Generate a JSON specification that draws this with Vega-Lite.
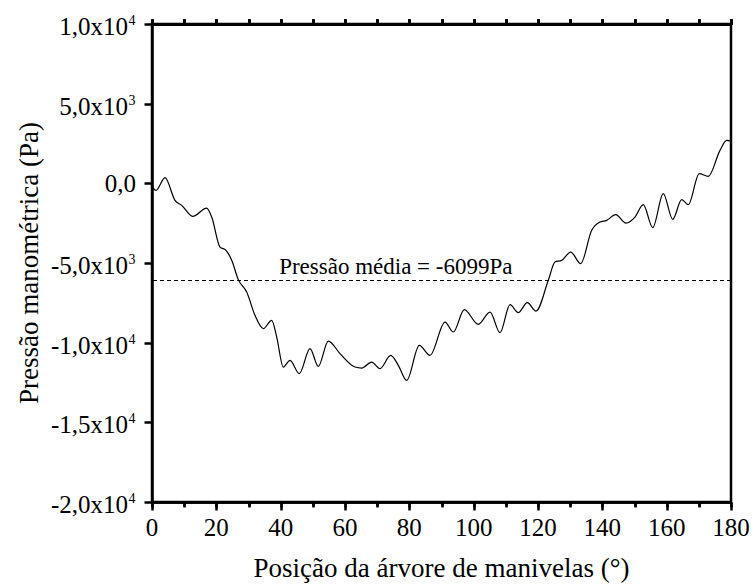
{
  "$schema": "https://vega.github.io/schema/vega-lite/v6.json",
  "width": 579,
  "height": 478,
  "autosize": {"type": "none"},
  "padding": {"left": 152, "top": 24, "right": 21, "bottom": 83},
  "background": "white",
  "config": {
    "view": {"stroke": "black", "strokeWidth": 2.5},
    "font": "Liberation Serif",
    "axis": {
      "domainColor": "black",
      "tickColor": "black",
      "domainWidth": 2.5,
      "tickWidth": 2.5,
      "grid": false,
      "labels": false,
      "title": null
    }
  },
  "datasets": {
    "curve": [
      {"angle": 0, "pressure": -188},
      {"angle": 1.24, "pressure": -439},
      {"angle": 4.04, "pressure": 358},
      {"angle": 7.15, "pressure": -1067},
      {"angle": 9.23, "pressure": -1381},
      {"angle": 12.65, "pressure": -2071},
      {"angle": 17.0, "pressure": -1550},
      {"angle": 18.56, "pressure": -2115},
      {"angle": 21.14, "pressure": -3998},
      {"angle": 23.0, "pressure": -4205},
      {"angle": 24.78, "pressure": -4833},
      {"angle": 26.83, "pressure": -6044},
      {"angle": 29.44, "pressure": -6822},
      {"angle": 32.02, "pressure": -8284},
      {"angle": 34.6, "pressure": -9119},
      {"angle": 37.21, "pressure": -8598},
      {"angle": 38.77, "pressure": -9646},
      {"angle": 40.82, "pressure": -11529},
      {"angle": 42.9, "pressure": -11109},
      {"angle": 45.79, "pressure": -11943},
      {"angle": 49.12, "pressure": -10374},
      {"angle": 51.7, "pressure": -11485},
      {"angle": 54.81, "pressure": -9897},
      {"angle": 58.45, "pressure": -10688},
      {"angle": 63.11, "pressure": -11529},
      {"angle": 65.19, "pressure": -11592},
      {"angle": 68.3, "pressure": -11215},
      {"angle": 70.88, "pressure": -11629},
      {"angle": 74.21, "pressure": -10795},
      {"angle": 76.57, "pressure": -11422},
      {"angle": 79.18, "pressure": -12364},
      {"angle": 83.1, "pressure": -10167},
      {"angle": 86.43, "pressure": -10795},
      {"angle": 91.09, "pressure": -8705},
      {"angle": 93.67, "pressure": -9332},
      {"angle": 97.09, "pressure": -7927},
      {"angle": 101.44, "pressure": -8849},
      {"angle": 105.08, "pressure": -8077},
      {"angle": 108.19, "pressure": -9370},
      {"angle": 111.3, "pressure": -7613},
      {"angle": 113.87, "pressure": -8115},
      {"angle": 116.67, "pressure": -7487},
      {"angle": 119.38, "pressure": -8015},
      {"angle": 123.2, "pressure": -6088},
      {"angle": 125.28, "pressure": -4939},
      {"angle": 127.37, "pressure": -4833},
      {"angle": 130.16, "pressure": -4312},
      {"angle": 133.27, "pressure": -5040},
      {"angle": 136.69, "pressure": -2950},
      {"angle": 139.27, "pressure": -2429},
      {"angle": 141.36, "pressure": -2322},
      {"angle": 144.15, "pressure": -1964},
      {"angle": 147.35, "pressure": -2492},
      {"angle": 150.15, "pressure": -2115},
      {"angle": 152.73, "pressure": -1337},
      {"angle": 155.66, "pressure": -2780},
      {"angle": 158.95, "pressure": -646},
      {"angle": 161.87, "pressure": -2259},
      {"angle": 164.67, "pressure": -1023},
      {"angle": 166.72, "pressure": -1337},
      {"angle": 170.14, "pressure": 609},
      {"angle": 172.94, "pressure": 439},
      {"angle": 176.58, "pressure": 2071},
      {"angle": 178.66, "pressure": 2699},
      {"angle": 180, "pressure": 2655}
    ],
    "media": [
      {"angle": 75.8, "media": -6099, "label": "Pressão média = -6099Pa"}
    ],
    "ylabels": [
      {"v": 10000, "mant": "1,0x10", "exp": "4"},
      {"v": 5000, "mant": "5,0x10", "exp": "3"},
      {"v": 0, "mant": "0,0", "exp": ""},
      {"v": -5000, "mant": "-5,0x10", "exp": "3"},
      {"v": -10000, "mant": "-1,0x10", "exp": "4"},
      {"v": -15000, "mant": "-1,5x10", "exp": "4"},
      {"v": -20000, "mant": "-2,0x10", "exp": "4"}
    ],
    "xlabels": [
      {"v": 0, "label": "0"},
      {"v": 20, "label": "20"},
      {"v": 40, "label": "40"},
      {"v": 60, "label": "60"},
      {"v": 80, "label": "80"},
      {"v": 100, "label": "100"},
      {"v": 120, "label": "120"},
      {"v": 140, "label": "140"},
      {"v": 160, "label": "160"},
      {"v": 180, "label": "180"}
    ]
  },
  "layer": [
    {
      "data": {"name": "curve"},
      "mark": {"type": "line", "interpolate": "monotone", "color": "black", "strokeWidth": 1.2},
      "encoding": {
        "x": {
          "field": "angle",
          "type": "quantitative",
          "scale": {"domain": [0, 180], "nice": false, "zero": false},
          "axis": {
            "orient": "bottom",
            "values": [0, 10, 20, 30, 40, 50, 60, 70, 80, 90, 100, 110, 120, 130, 140, 150, 160, 170, 180],
            "tickSize": {"condition": {"test": "datum.value % 20 == 0", "value": 8}, "value": 4}
          }
        },
        "y": {
          "field": "pressure",
          "type": "quantitative",
          "scale": {"domain": [-20000, 10000], "nice": false, "zero": false},
          "axis": {
            "orient": "left",
            "values": [-20000, -17500, -15000, -12500, -10000, -7500, -5000, -2500, 0, 2500, 5000, 7500, 10000],
            "tickSize": {"condition": {"test": "datum.value % 5000 == 0", "value": 8}, "value": 4}
          }
        }
      }
    },
    {
      "data": {"name": "media"},
      "mark": {"type": "rule", "color": "black", "strokeWidth": 1, "strokeDash": [4, 3]},
      "encoding": {
        "y": {"field": "media", "type": "quantitative"}
      }
    },
    {
      "data": {"name": "media"},
      "mark": {"type": "text", "fontSize": 23, "font": "Liberation Serif", "color": "black", "align": "center", "baseline": "alphabetic", "dy": -7},
      "encoding": {
        "x": {
          "field": "angle",
          "type": "quantitative",
          "axis": {
            "orient": "top",
            "domain": false,
            "values": [0, 10, 20, 30, 40, 50, 60, 70, 80, 90, 100, 110, 120, 130, 140, 150, 160, 170, 180],
            "tickSize": 3
          }
        },
        "y": {"field": "media", "type": "quantitative"},
        "text": {"field": "label"}
      }
    },
    {
      "data": {"name": "ylabels"},
      "transform": [{"filter": "datum.exp != ''"}],
      "mark": {"type": "text", "fontSize": 25, "font": "Liberation Serif", "color": "black", "align": "right", "baseline": "alphabetic", "dx": -24, "dy": 11},
      "encoding": {
        "x": {"datum": 0, "type": "quantitative"},
        "y": {"field": "v", "type": "quantitative"},
        "text": {"field": "mant"}
      }
    },
    {
      "data": {"name": "ylabels"},
      "transform": [{"filter": "datum.exp != ''"}],
      "mark": {"type": "text", "fontSize": 14, "font": "Liberation Serif", "color": "black", "align": "left", "baseline": "alphabetic", "dx": -23.5, "dy": 1},
      "encoding": {
        "x": {"datum": 0, "type": "quantitative"},
        "y": {"field": "v", "type": "quantitative"},
        "text": {"field": "exp"}
      }
    },
    {
      "data": {"name": "ylabels"},
      "transform": [{"filter": "datum.exp == ''"}],
      "mark": {"type": "text", "fontSize": 25, "font": "Liberation Serif", "color": "black", "align": "right", "baseline": "alphabetic", "dx": -16, "dy": 9},
      "encoding": {
        "x": {"datum": 0, "type": "quantitative"},
        "y": {"field": "v", "type": "quantitative"},
        "text": {"field": "mant"}
      }
    },
    {
      "data": {"name": "xlabels"},
      "mark": {"type": "text", "fontSize": 25, "font": "Liberation Serif", "color": "black", "align": "center", "baseline": "alphabetic", "dy": 34},
      "encoding": {
        "x": {"field": "v", "type": "quantitative"},
        "y": {"datum": -20000, "type": "quantitative"},
        "text": {"field": "label"}
      }
    },
    {
      "data": {"values": [{"t": "Posição da árvore de manivelas (°)"}]},
      "mark": {"type": "text", "fontSize": 27, "font": "Liberation Serif", "color": "black", "align": "center", "baseline": "alphabetic", "dy": 75},
      "encoding": {
        "x": {"datum": 90, "type": "quantitative"},
        "y": {"datum": -20000, "type": "quantitative"},
        "text": {"field": "t"}
      }
    },
    {
      "data": {"values": [{"t": "Pressão manométrica (Pa)"}]},
      "mark": {"type": "text", "fontSize": 27, "font": "Liberation Serif", "color": "black", "align": "center", "baseline": "alphabetic", "angle": 270, "dy": -114},
      "encoding": {
        "x": {"datum": 0, "type": "quantitative"},
        "y": {"datum": -5000, "type": "quantitative"},
        "text": {"field": "t"}
      }
    }
  ],
  "resolve": {"axis": {"x": "independent"}}
}
